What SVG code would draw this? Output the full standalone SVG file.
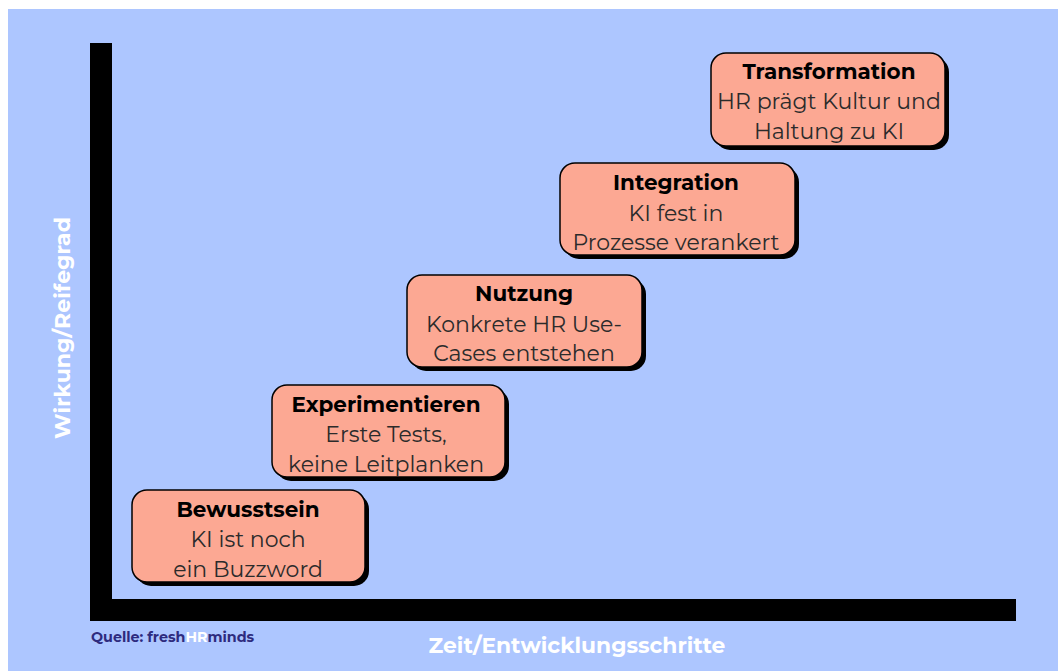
<svg xmlns="http://www.w3.org/2000/svg" width="1058" height="671" viewBox="0 0 1058 671">
<style>
.shadow{fill:#000}
.box{fill:#FCA893;stroke:#000;stroke-width:1.5}
.t{font-family:Montserrat,"Open Sans","Noto Sans",sans-serif;font-weight:700;font-size:21.5px;fill:#000;text-anchor:middle}
.b{font-family:Montserrat,"Open Sans","Noto Sans",sans-serif;font-size:22px;fill:#2b2b2b;text-anchor:middle}
.ax{font-family:Montserrat,"Open Sans","Noto Sans",sans-serif;font-weight:700;font-size:21.8px;fill:#fff;text-anchor:middle}
</style>
<rect x="0" y="0" width="1058" height="671" fill="#fff"/>
<rect x="8" y="9" width="1050" height="662" fill="#ADC6FF"/>
<g id="axes">
<rect x="90" y="43" width="22" height="578" fill="#000"/>
<rect x="90" y="599" width="926" height="22" fill="#000"/>
</g>
<g id="bewusstsein">
<rect class="shadow" x="136" y="494" width="233" height="92" rx="15"/>
<rect class="box" x="132" y="490" width="233" height="92" rx="15"/>
<text class="t" x="248" y="517">Bewusstsein</text>
<text class="b" x="248" y="547">KI ist noch</text>
<text class="b" x="248" y="577">ein Buzzword</text>
</g>
<g id="experimentieren">
<rect class="shadow" x="276" y="389" width="233" height="92" rx="15"/>
<rect class="box" x="272" y="385" width="233" height="92" rx="15"/>
<text class="t" x="386" y="412">Experimentieren</text>
<text class="b" x="386" y="442">Erste Tests,</text>
<text class="b" x="386" y="472">keine Leitplanken</text>
</g>
<g id="nutzung">
<rect class="shadow" x="411" y="279" width="235" height="92" rx="15"/>
<rect class="box" x="407" y="275" width="235" height="92" rx="15"/>
<text class="t" x="524" y="301">Nutzung</text>
<text class="b" x="524" y="332">Konkrete HR Use-</text>
<text class="b" x="524" y="361">Cases entstehen</text>
</g>
<g id="integration">
<rect class="shadow" x="564" y="167" width="235" height="92" rx="15"/>
<rect class="box" x="560" y="163" width="235" height="92" rx="15"/>
<text class="t" x="676" y="190">Integration</text>
<text class="b" x="676" y="221">KI fest in</text>
<text class="b" x="676" y="250">Prozesse verankert</text>
</g>
<g id="transformation">
<rect class="shadow" x="715" y="57" width="234" height="93" rx="15"/>
<rect class="box" x="711" y="53" width="234" height="93" rx="15"/>
<text class="t" x="829" y="79">Transformation</text>
<text class="b" x="829" y="109">HR prägt Kultur und</text>
<text class="b" x="829" y="139">Haltung zu KI</text>
</g>
<g id="labels">
<text class="ax" x="577" y="653">Zeit/Entwicklungsschritte</text>
<text class="ax" style="font-size:22px" transform="translate(70,328) rotate(-90)">Wirkung/Reifegrad</text>
<text x="91" y="642" font-family="Montserrat,'Open Sans','Noto Sans',sans-serif" font-weight="700" font-size="14.3px" fill="#2E2B7E">Quelle: fresh<tspan fill="#fff">HR</tspan>minds</text>
</g>
</svg>
